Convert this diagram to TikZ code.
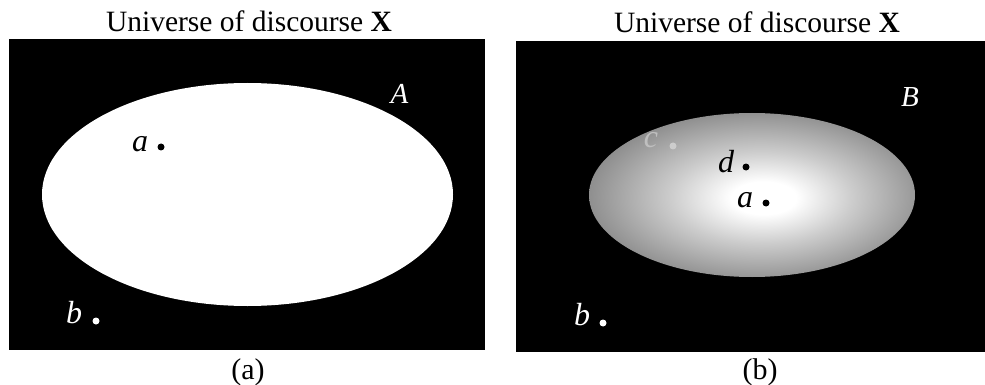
\documentclass[tikz,border=0pt]{standalone}
\usepackage{fontspec}
\setmainfont{Liberation Serif}
\pgfdeclareradialshading{fuzzy}{\pgfpoint{2bp}{-1bp}}{color(0bp)=(white); color(5bp)=(white); color(14bp)=(black!20); color(28bp)=(black!48); color(44bp)=(black!63); color(50bp)=(black!70)}
\begin{document}
\begin{tikzpicture}[x=1pt,y=-1pt,
  title/.style={anchor=base,inner sep=0pt,font=\fontsize{29.5}{33}\selectfont},
  caption/.style={anchor=base,inner sep=0pt,font=\fontsize{30}{33}\selectfont},
  lbl/.style={anchor=base,inner sep=0pt,font=\fontsize{32}{36}\selectfont\itshape},
  setlbl/.style={anchor=base,inner sep=0pt,font=\fontsize{29}{32}\selectfont\itshape,text=white},
  pt/.style={circle,inner sep=0pt,minimum size=7pt}]
\useasboundingbox (0,0) rectangle (985,385);
\fill[white] (0,0) rectangle (985,385);
% panel (a)
\fill[black] (9,39) rectangle (485,350);
\fill[white] (247.5,194.5) ellipse (205.5 and 111.5);
\node[title] (ta) at (249,32) {Universe of discourse \textbf{X}};
\node[setlbl] (A) at (399.5,104) {A};
\node[lbl] (la) at (140,151) {a};
\node[pt,fill=black] (pa) at (161,147) {};
\node[lbl,text=white] (lb) at (74,323) {b};
\node[pt,fill=white] (pb) at (96,321) {};
\node[caption] (ca) at (248,379) {(a)};
% panel (b)
\fill[black] (516,41) rectangle (985,352);
\shade[shading=fuzzy] (752,195) ellipse (163 and 82);
\node[title] (tb) at (757,33) {Universe of discourse \textbf{X}};
\node[setlbl] (B) at (910,107) {B};
\node[lbl,text=black!25] (lc) at (651,148) {c};
\node[pt,fill=black!20] (pc) at (673,146) {};
\node[lbl] (ld) at (726,172) {d};
\node[pt,fill=black] (pd) at (746,167) {};
\node[lbl] (la2) at (745,207) {a};
\node[pt,fill=black] (pa2) at (766,203) {};
\node[lbl,text=white] (lb2) at (582,325) {b};
\node[pt,fill=white] (pb2) at (603,323) {};
\node[caption] (cb) at (760,379) {(b)};
\end{tikzpicture}
\end{document}
